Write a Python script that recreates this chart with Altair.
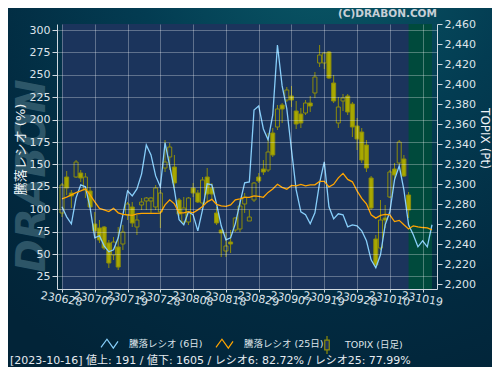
import json
import altair as alt
import pandas as pd

# ---------------- data ----------------
tick_labels = ["230628", "230707", "230719", "230728", "230808", "230818",
               "230829", "230907", "230919", "230928", "231010", "231019"]
tick_step = 7  # trading days between labelled ticks

series_names = ["騰落レシオ (6日)", "騰落レシオ (25日)", "TOPIX (日足)"]

ratio6 = [102.7, 91.5, 83.7, 112.7, 127.2, 125.0, 101.6, 68.1, 70.4, 59.2,
          52.5, 54.7, 68.1, 93.8, 120.5, 114.9, 122.7, 139.5, 171.8, 160.6,
          137.2, 125.0, 174.0, 148.4, 121.6, 88.2, 82.6, 97.1, 93.8, 75.9,
          99.3, 128.3, 127.2, 106.0, 81.5, 65.9, 68.1, 83.7, 107.1, 129.4,
          130.5, 210.8, 215.3, 189.6, 177.4, 205.2, 283.3, 237.6, 211.9, 166.2,
          121.6, 97.1, 93.8, 83.7, 96.0, 129.4, 152.8, 102.7, 89.3, 94.9,
          93.8, 80.4, 82.6, 81.5, 75.9, 64.8, 43.6, 34.7, 49.2, 82.6,
          97.1, 132.8, 148.4, 121.6, 82.72, 71.5, 58.1, 64.8, 58.1, 82.7]

ratio25 = [111.6, 113.5, 116.1, 118.6, 120.5, 122.7, 116.1, 108.3, 101.0, 99.3,
           97.4, 101.0, 96.0, 94.3, 93.8, 93.2, 94.9, 95.4, 95.4, 95.4,
           95.4, 95.6, 104.9, 110.5, 106.0, 96.0, 96.0, 97.4, 96.0, 99.3,
           103.0, 108.3, 111.0, 105.5, 103.8, 103.2, 104.9, 110.5, 111.6, 113.3,
           113.3, 114.9, 114.4, 113.3, 118.8, 122.7, 127.8, 124.4, 122.4, 126.6,
           126.1, 127.8, 126.1, 127.2, 127.2, 131.1, 131.1, 125.0, 127.8, 135.0,
           140.0, 133.3, 130.6, 120.5, 112.2, 106.0, 93.8, 90.1, 93.2, 94.3,
           93.8, 86.3, 87.6, 82.6, 77.99, 81.5, 80.4, 79.6, 79.3, 77.0]

topix_open = [2271, 2307, 2291, 2307, 2311, 2294, 2293, 2260, 2256, 2257,
              2241, 2229, 2237, 2240, 2269, 2277, 2257, 2279, 2283, 2283,
              2277, 2272, 2316, 2327, 2317, 2284, 2262, 2262, 2296, 2291,
              2281, 2307, 2296, 2271, 2254, 2233, 2242, 2254, 2255, 2280,
              2263, 2284, 2307, 2315, 2314, 2351, 2357, 2379, 2384, 2388,
              2373, 2370, 2371, 2381, 2391, 2421, 2421, 2432, 2401, 2361,
              2383, 2388, 2380, 2358, 2352, 2339, 2306, 2245, 2236, 2266,
              2287, 2315, 2321, 2325, 2289]
topix_high = [2301, 2313, 2294, 2324, 2314, 2311, 2297, 2272, 2264, 2258,
              2244, 2247, 2257, 2259, 2282, 2282, 2269, 2286, 2287, 2287,
              2299, 2294, 2344, 2341, 2329, 2286, 2287, 2287, 2301, 2294,
              2307, 2316, 2301, 2277, 2255, 2251, 2254, 2267, 2284, 2291,
              2274, 2302, 2311, 2324, 2351, 2356, 2379, 2381, 2397, 2398,
              2383, 2376, 2384, 2388, 2412, 2439, 2432, 2433, 2409, 2387,
              2390, 2390, 2382, 2366, 2356, 2344, 2308, 2249, 2284, 2279,
              2314, 2321, 2344, 2329, 2292]
topix_low = [2267, 2289, 2276, 2306, 2302, 2286, 2276, 2247, 2241, 2234,
             2216, 2224, 2214, 2234, 2264, 2257, 2249, 2274, 2274, 2271,
             2274, 2256, 2312, 2314, 2296, 2268, 2259, 2259, 2287, 2281,
             2277, 2281, 2284, 2259, 2227, 2227, 2231, 2252, 2252, 2271,
             2263, 2282, 2301, 2309, 2312, 2327, 2354, 2361, 2382, 2377,
             2355, 2356, 2369, 2372, 2386, 2417, 2415, 2405, 2381, 2356,
             2373, 2369, 2347, 2334, 2321, 2312, 2274, 2216, 2234, 2256,
             2286, 2304, 2319, 2307, 2266]
topix_close = [2299, 2296, 2288, 2322, 2306, 2307, 2277, 2253, 2244, 2236,
               2221, 2242, 2217, 2252, 2280, 2261, 2264, 2282, 2286, 2286,
               2296, 2291, 2322, 2337, 2301, 2270, 2276, 2286, 2291, 2282,
               2304, 2290, 2290, 2261, 2251, 2238, 2240, 2266, 2278, 2287,
               2267, 2301, 2303, 2312, 2332, 2329, 2375, 2375, 2394, 2384,
               2360, 2361, 2381, 2378, 2407, 2429, 2431, 2406, 2383, 2377,
               2386, 2372, 2357, 2345, 2324, 2316, 2276, 2219, 2264, 2264,
               2312, 2309, 2342, 2308, 2274]

status_date = "2023-10-16"
status_advances = 191
status_declines = 1605
status_r6 = 82.72
status_r25 = 77.99

# ---------------- tables ----------------
x_end = len(ratio6) - 1
last_day = len(topix_close) - 1

ratio_df = pd.DataFrame({
    "idx": list(range(len(ratio6))) * 2,
    "value": ratio6 + ratio25,
    "series": [series_names[0]] * len(ratio6) + [series_names[1]] * len(ratio25),
})
candle_df = pd.DataFrame({
    "idx": list(range(len(topix_close))),
    "open": topix_open, "high": topix_high, "low": topix_low, "close": topix_close,
    "series": [series_names[2]] * len(topix_close),
})
plot_span = pd.DataFrame({"start": [0], "end": [x_end]})
future_span = pd.DataFrame({"start": [last_day], "end": [x_end]})
one = pd.DataFrame({"k": [0]})

status_text = (f"[{status_date}]  値上: {status_advances} / 値下: {status_declines} / "
               f"レシオ6: {status_r6:.2f}% / レシオ25: {status_r25:.2f}%")

# ---------------- style ----------------
W, H = 380, 265
PAD = {"left": 49, "top": 16, "right": 55, "bottom": 78}   # svg = 484 x 359
LIGHT_BLUE = "#87cefa"
ORANGE = "#ffa500"
OLIVE_FILL = "#a8a800"
OLIVE_LINE = "#8c8c0a"
NAVY = "#1b345c"
GREEN = "#004a3c"
TXT = "#dde4ea"
FONT = "DejaVu Sans, Noto Sans CJK JP"

x_scale = alt.Scale(domain=[0, x_end], nice=False, zero=False)
left_scale = alt.Scale(domain=[11, 306.7], nice=False, zero=False)
right_scale = alt.Scale(domain=[2195, 2460], nice=False, zero=False)

label_js = json.dumps(tick_labels)
x_axis = alt.Axis(
    values=[i * tick_step for i in range(len(tick_labels))],
    labelExpr=f"{label_js}[round(datum.value / {tick_step})]",
    labelAngle=10, labelAlign="center", labelBaseline="top", labelPadding=1,
    labelFlush=False, labelOverlap=False, labelBound=False,
    tickSize=3, grid=True, gridColor="#ffffff", gridOpacity=0.3,
    domainColor="#d0d8e0", tickColor="#d0d8e0", labelColor=TXT,
    labelFontSize=11, labelFont=FONT, title=None, zindex=1,
)
left_axis = alt.Axis(
    orient="left", values=list(range(25, 301, 25)), grid=True,
    gridColor="#ffffff", gridOpacity=0.3, tickSize=5,
    domainColor="#d0d8e0", tickColor="#d0d8e0", labelColor=TXT,
    labelFontSize=11, labelFont=FONT, title="騰落レシオ (%)",
    titleFont=FONT, titleFontSize=13, titleFontWeight="normal",
    titleColor="#eef2f6", titlePadding=2, titleY=125, zindex=1,
)
right_axis = alt.Axis(
    orient="right", values=list(range(2200, 2461, 20)), format=",d", grid=False,
    tickSize=5, domainColor="#d0d8e0", tickColor="#d0d8e0", labelColor=TXT,
    labelFontSize=11, labelFont=FONT, title="TOPIX (Pt)", titleFont=FONT,
    titleFontSize=12, titleFontWeight="normal", titleColor="#eef2f6",
    titlePadding=2, titleY=114, zindex=1,
)

zigzag = "M-1,0.4L-0.3,-0.55L0.45,0.5L1,-0.3"
candle_icon = "M0,-1L0,-0.55M-0.25,-0.55L0.25,-0.55L0.25,0.55L-0.25,0.55ZM0,0.55L0,1"

line_legend = alt.Legend(
    orient="none", legendX=43, legendY=310, direction="horizontal", title=None,
    symbolType=zigzag, symbolSize=289, symbolStrokeWidth=1.2,
    symbolFillColor="transparent", labelFontSize=9.5, labelColor=TXT,
    labelFont=FONT, labelOffset=10, columnPadding=10, padding=0,
)
candle_legend = alt.Legend(
    orient="none", legendX=260, legendY=311, direction="horizontal", title=None,
    symbolType=candle_icon, symbolSize=324, symbolStrokeWidth=1.2,
    symbolFillColor="transparent", labelFontSize=9.5, labelColor=TXT,
    labelFont=FONT, labelOffset=8, padding=0,
)

# ---------------- layers ----------------
gradient = {
    "gradient": "radial", "x1": 0.66, "y1": 0.0, "r1": 0.0,
    "x2": 0.66, "y2": 0.0, "r2": 1.0,
    "stops": [
        {"offset": 0.0, "color": "#0a5a68"},
        {"offset": 0.4, "color": "#033c52"},
        {"offset": 0.75, "color": "#022a40"},
        {"offset": 1.0, "color": "#022438"},
    ],
}
bg = alt.Chart(one).mark_rect(fill=gradient).encode(
    x=alt.value(-PAD["left"]), x2=alt.value(W + PAD["right"]),
    y=alt.value(-PAD["top"]), y2=alt.value(H + PAD["bottom"]),
)

plot_bg = alt.Chart(plot_span).mark_rect(fill=NAVY).encode(
    x=alt.X("start:Q", scale=x_scale, axis=x_axis), x2="end:Q"
)
future_bg = alt.Chart(future_span).mark_rect(fill=GREEN).encode(
    x=alt.X("start:Q", scale=x_scale, axis=x_axis), x2="end:Q"
)

watermark = alt.Chart(pd.DataFrame({"t": ["DRABON"]})).mark_text(
    angle=270, font="DejaVu Sans", fontSize=40, fontWeight="bold",
    fontStyle="italic", color="#40697a", opacity=0.7,
    align="center", baseline="middle",
).encode(text="t:N", x=alt.value(-24), y=alt.value(152))

wick = alt.Chart(candle_df).mark_rule(color=OLIVE_LINE, strokeWidth=1).encode(
    x=alt.X("idx:Q", scale=x_scale, axis=x_axis),
    y=alt.Y("low:Q", scale=right_scale, axis=right_axis),
    y2="high:Q",
)
body = alt.Chart(candle_df).mark_bar(size=4, strokeWidth=1, filled=False).encode(
    x=alt.X("idx:Q", scale=x_scale, axis=x_axis),
    y=alt.Y("open:Q", scale=right_scale, axis=right_axis),
    y2="close:Q",
    fill=alt.condition("datum.close < datum.open", alt.value(OLIVE_FILL), alt.value(NAVY)),
    stroke=alt.Stroke("series:N",
                      scale=alt.Scale(domain=[series_names[2]], range=[OLIVE_LINE]),
                      legend=candle_legend),
)
candles = alt.layer(wick, body)

lines = alt.Chart(ratio_df).mark_line(strokeWidth=1.3).encode(
    x=alt.X("idx:Q", scale=x_scale, axis=x_axis),
    y=alt.Y("value:Q", scale=left_scale, axis=left_axis),
    color=alt.Color("series:N",
                    scale=alt.Scale(domain=series_names[:2], range=[LIGHT_BLUE, ORANGE]),
                    legend=line_legend),
)

brand = alt.Chart(pd.DataFrame({"t": ["(C)DRABON.COM"]})).mark_text(
    align="right", baseline="alphabetic", font="DejaVu Sans", fontSize=10.5,
    fontWeight="bold", color="#c7cfd6",
).encode(text="t:N", x=alt.value(W), y=alt.value(-7))

status = alt.Chart(pd.DataFrame({"t": [status_text]})).mark_text(
    align="left", baseline="alphabetic", font=FONT, fontSize=11, color="#e6ebf0",
).encode(text="t:N", x=alt.value(-47), y=alt.value(340))

chart = alt.layer(
    bg, plot_bg, future_bg, watermark, candles, lines, brand, status
).resolve_scale(
    y="independent"
).properties(
    width=W, height=H,
    padding=PAD,
    autosize=alt.AutoSizeParams(type="none"),
    background="#022a40",
).configure_view(strokeWidth=0)

chart.save("out.html", embed_options={"renderer": "svg", "actions": False})
